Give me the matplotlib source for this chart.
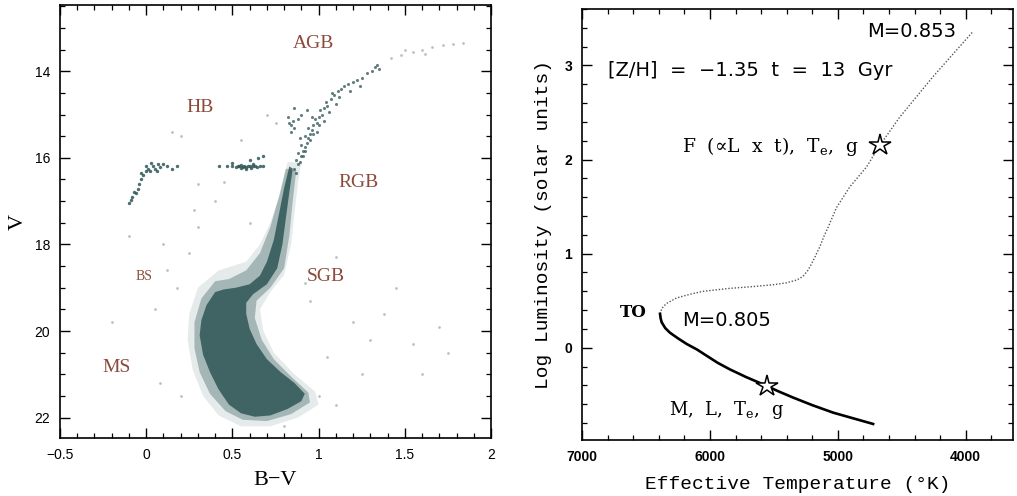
import numpy as np
import matplotlib.pyplot as plt
from matplotlib.ticker import MultipleLocator

plt.rcParams['mathtext.fontset'] = 'custom'
plt.rcParams['mathtext.rm'] = 'DejaVu Serif'
plt.rcParams['xtick.direction'] = 'in'
plt.rcParams['ytick.direction'] = 'in'
plt.rcParams['xtick.top'] = True
plt.rcParams['ytick.right'] = True

# ---- panel izquierdo: diagrama color-magnitud ----
# nube densa MS / TO / SGB / RGB inferior (contorno)
core_bv = [0.40, 0.35, 0.32, 0.31, 0.33, 0.37, 0.42, 0.48, 0.55, 0.63, 0.72, 0.82, 0.90, 0.92,
           0.86, 0.78, 0.70, 0.64, 0.60, 0.58, 0.58, 0.62, 0.70, 0.76, 0.79, 0.81, 0.83, 0.85,
           0.83, 0.80, 0.77, 0.74, 0.70, 0.66, 0.60, 0.52, 0.45]
core_v = [19.10, 19.40, 19.75, 20.10, 20.55, 20.95, 21.35, 21.70, 21.90, 21.98, 21.95, 21.80, 21.62, 21.45,
          21.20, 20.95, 20.65, 20.30, 19.95, 19.60, 19.35, 19.15, 18.92, 18.55, 18.00, 17.40, 16.80, 16.25,
          16.20, 16.70, 17.30, 17.90, 18.40, 18.72, 18.92, 19.00, 19.04]
# zona intermedia
mid_bv = [0.40, 0.32, 0.28, 0.28, 0.31, 0.37, 0.46, 0.56, 0.70, 0.84, 0.95, 0.94, 0.84, 0.74,
          0.67, 0.63, 0.64, 0.72, 0.80, 0.83, 0.85, 0.87, 0.81, 0.77, 0.72, 0.66, 0.58, 0.48]
mid_v = [18.85, 19.25, 19.80, 20.40, 20.95, 21.45, 21.85, 22.05, 22.08, 21.92, 21.65, 21.42, 21.05, 20.65,
         20.20, 19.70, 19.30, 19.00, 18.55, 17.80, 17.00, 16.30, 16.25, 16.90, 17.60, 18.20, 18.60, 18.80]
# halo menos denso alrededor de la nube
halo_bv = [0.42, 0.30, 0.25, 0.24, 0.27, 0.33, 0.42, 0.55, 0.72, 0.88, 1.0, 0.98, 0.86, 0.74,
           0.68, 0.66, 0.72, 0.80, 0.84, 0.86, 0.88, 0.90, 0.82, 0.78, 0.72, 0.66, 0.58]
halo_v = [18.6, 19.0, 19.6, 20.2, 20.9, 21.5, 21.95, 22.2, 22.2, 22.0, 21.7, 21.4, 21.0, 20.5,
          20.0, 19.5, 19.1, 18.7, 18.0, 17.3, 16.6, 16.1, 16.1, 16.8, 17.5, 18.0, 18.4]
# RGB superior + AGB
rgb_bv = [0.86, 0.88, 0.87, 0.89, 0.90, 0.88, 0.91, 0.92, 0.90, 0.93, 0.94, 0.92, 0.95, 0.96,
          0.94, 0.97, 0.99, 0.98, 1.00, 1.02, 1.01, 1.03, 1.05, 1.04, 1.07, 1.09, 1.08, 1.11,
          1.13, 1.15, 1.17, 1.20, 1.22, 1.25, 1.28, 1.31, 1.33, 1.35, 0.83, 0.84, 0.85, 0.86,
          0.88, 0.90, 0.93, 0.87, 0.91, 0.95, 1.00, 0.84, 0.89, 0.96, 1.06, 1.12, 1.18, 0.97,
          1.03, 0.82, 0.86, 1.10, 1.24, 1.34, 0.92, 0.99]
rgb_v = [16.25, 16.15, 16.05, 16.10, 15.95, 15.90, 15.85, 15.75, 15.70, 15.65, 15.55, 15.50, 15.45, 15.35,
         15.30, 15.25, 15.20, 15.10, 15.05, 15.00, 14.90, 14.85, 14.80, 14.70, 14.65, 14.55, 14.50, 14.45,
         14.40, 14.35, 14.30, 14.25, 14.20, 14.15, 14.05, 14.00, 13.90, 13.95, 15.20, 15.25, 15.15, 15.30,
         15.10, 15.00, 14.90, 16.35, 15.95, 15.60, 15.25, 15.40, 15.55, 15.05, 14.95, 14.60, 14.45, 15.45,
         15.15, 15.05, 14.85, 14.75, 14.35, 13.85, 15.85, 15.40]
# HB azul y rojo
hb_bv = [-0.10, -0.09, -0.08, -0.06, -0.05, -0.04, -0.03, -0.02, 0.00, 0.01, 0.00, 0.02, 0.04,
         0.05, 0.07, 0.08, 0.10, 0.12, 0.15, 0.18, 0.42, 0.47, 0.50, 0.52, 0.53, 0.54, 0.55,
         0.56, 0.57, 0.58, 0.59, 0.60, 0.61, 0.62, 0.63, 0.64, 0.66, 0.68, 0.60, 0.65, 0.68,
         -0.07, -0.03, 0.03, 0.06, 0.55, 0.58, 0.62, 0.50]
hb_v = [17.05, 16.98, 16.90, 16.82, 16.72, 16.60, 16.50, 16.40, 16.30, 16.25, 16.20, 16.30, 16.20,
        16.25, 16.15, 16.22, 16.15, 16.20, 16.25, 16.20, 16.20, 16.18, 16.20, 16.22, 16.18, 16.20, 16.24,
        16.21, 16.20, 16.22, 16.19, 16.20, 16.24, 16.18, 16.20, 16.22, 16.18, 16.20, 16.05, 16.00, 15.95,
        16.78, 16.35, 16.12, 16.30, 16.16, 16.26, 16.15, 16.12]
# estrellas de campo (gris claro)
field_bv = [0.30, 0.10, -0.10, 0.20, 0.15, 1.20, 1.30, 1.55, 1.70, 1.05, 0.95, 1.10, 0.35, 0.25,
            -0.20, 0.05, 0.20, 1.00, 1.10, 0.80, 1.45, 1.60, 1.75, 0.40, 0.30, 0.60, 0.75, 0.70,
            1.42, 1.48, 1.55, 1.60, 1.66, 1.72, 1.78, 1.84, 1.50, 1.62, 0.08, 0.45, 0.28, 0.12,
            1.25, 0.92, 1.38, 0.55, 0.18]
field_v = [17.6, 18.0, 17.8, 15.5, 15.4, 19.8, 20.2, 20.3, 19.9, 20.6, 19.3, 18.3, 20.5, 18.2,
           19.8, 19.5, 21.5, 21.5, 21.7, 22.2, 19.0, 21.0, 20.5, 17.0, 16.6, 17.5, 15.2, 15.0,
           13.70, 13.62, 13.55, 13.50, 13.45, 13.40, 13.38, 13.35, 13.50, 13.60, 21.2, 16.55, 17.2, 18.6,
           21.0, 18.9, 19.6, 15.6, 19.0]

cmd_labels = ['AGB', 'HB', 'RGB', 'SGB', 'MS', 'BS']
cmd_lab_x = [0.97, 0.31, 1.23, 1.04, -0.17, -0.01]
cmd_lab_y = [13.35, 14.83, 16.57, 18.74, 20.84, 18.74]

# ---- panel derecho: isocrona ----
ms_teff = [6390, 6385, 6377, 6350, 6313, 6250, 6182, 6100, 6026, 5940, 5844, 5720, 5583, 5470,
           5349, 5200, 5036, 4880, 4724]
ms_logl = [0.36, 0.31, 0.27, 0.21, 0.16, 0.10, 0.04, -0.02, -0.085, -0.16, -0.23, -0.31, -0.39, -0.46,
           -0.53, -0.61, -0.69, -0.75, -0.81]
gb_teff = [6390, 6375, 6340, 6259, 6150, 6051, 5850, 5661, 5500, 5401, 5320, 5271, 5235, 5206,
           5180, 5160, 5141, 5110, 5076, 5010, 4906, 4776, 4672, 4516, 4256, 3943]
gb_logl = [0.36, 0.42, 0.47, 0.53, 0.57, 0.60, 0.63, 0.65, 0.67, 0.69, 0.72, 0.76, 0.82, 0.89,
           0.96, 1.02, 1.07, 1.18, 1.28, 1.49, 1.71, 1.92, 2.15, 2.45, 2.88, 3.36]
star_teff = [5557, 4672]
star_logl = [-0.41, 2.15]

teal = '#2f5656'
brown = '#8b4a3a'

fig = plt.figure(figsize=(10.17, 4.96), dpi=100)
ax1 = fig.add_axes([0.059, 0.117, 0.4238, 0.873])
ax2 = fig.add_axes([0.5723, 0.113, 0.4238, 0.869])

# panel izquierdo
ax1.scatter(field_bv, field_v, s=4, color='#b9c2c2', linewidths=0)
ax1.fill(halo_bv, halo_v, color=teal, alpha=0.12, lw=0)
ax1.fill(mid_bv, mid_v, color=teal, alpha=0.35, lw=0)
ax1.fill(core_bv, core_v, color=teal, alpha=0.85, lw=0)
ax1.scatter(rgb_bv, rgb_v, s=5, color=teal, alpha=0.75, linewidths=0)
ax1.scatter(hb_bv, hb_v, s=6, color=teal, alpha=0.85, linewidths=0)
for lab, lx, ly in zip(cmd_labels, cmd_lab_x, cmd_lab_y):
    ax1.text(lx, ly, lab, color=brown, ha='center', va='center',
             family='Liberation Serif', fontsize=10 if lab == 'BS' else 14)

ax1.set_xlim(-0.5, 2)
ax1.set_ylim(22.47, 12.47)
ax1.xaxis.set_major_locator(MultipleLocator(0.5))
ax1.xaxis.set_minor_locator(MultipleLocator(0.1))
ax1.yaxis.set_major_locator(MultipleLocator(2))
ax1.yaxis.set_minor_locator(MultipleLocator(0.5))
ax1.xaxis.set_major_formatter(plt.FuncFormatter(lambda v, p: ('%g' % v).replace('-', '\u2212')))
ax1.set_xlabel('B\u2212V', family='Liberation Serif', fontsize=16, labelpad=7)
ax1.set_ylabel('V', family='Liberation Serif', fontsize=16, labelpad=5)

# panel derecho
ax2.plot(gb_teff, gb_logl, ls=(0, (1, 1.3)), color='#555555', lw=1.0)
ax2.plot(ms_teff, ms_logl, color='black', lw=1.9)
ax2.plot(star_teff, star_logl, ls='none', marker='*', ms=16, mfc='white', mec='black', mew=1.1)
ax2.text(4420, 3.36, 'M=0.853', ha='center', va='center', family='DejaVu Sans', fontsize=14)
ax2.text(6800, 2.95, '[Z/H]  =  \u22121.35  t  =  13  Gyr', ha='left', va='center',
         family='DejaVu Sans', fontsize=14)
ax2.text(6220, 0.29, 'M=0.805', ha='left', va='center', family='DejaVu Sans', fontsize=14)
ax2.text(6220, 2.14, 'F  (\u221dL  x  t),  T$_\\mathrm{e}$,  g', ha='left', va='center',
         family='DejaVu Serif', fontsize=13.5)
ax2.text(6600, 0.37, 'TO', ha='center', va='center', family='DejaVu Serif',
         fontsize=12, weight='bold')
ax2.text(6320, -0.66, 'M,  L,  T$_\\mathrm{e}$,  g', ha='left', va='center',
         family='DejaVu Serif', fontsize=13)

ax2.set_xlim(7000, 3630)
ax2.set_ylim(-0.98, 3.6)
ax2.xaxis.set_major_locator(MultipleLocator(1000))
ax2.xaxis.set_minor_locator(MultipleLocator(200))
ax2.yaxis.set_major_locator(MultipleLocator(1))
ax2.yaxis.set_minor_locator(MultipleLocator(0.2))
ax2.set_xlabel('Effective Temperature (\u00b0K)', family='Liberation Mono', fontsize=14, labelpad=9)
ax2.set_ylabel('Log Luminosity (solar units)', family='Liberation Mono', fontsize=14, labelpad=9)

for ax, wt in ((ax1, 'normal'), (ax2, 'bold')):
    ax.tick_params(which='major', length=7, width=1.0, labelsize=10, pad=7)
    ax.tick_params(which='minor', length=3.5, width=0.9)
    for lab in ax.get_xticklabels() + ax.get_yticklabels():
        lab.set_family('Liberation Sans')
        lab.set_weight(wt)
    for sp in ax.spines.values():
        sp.set_linewidth(1.2)

fig.savefig('out.png', dpi=100)
